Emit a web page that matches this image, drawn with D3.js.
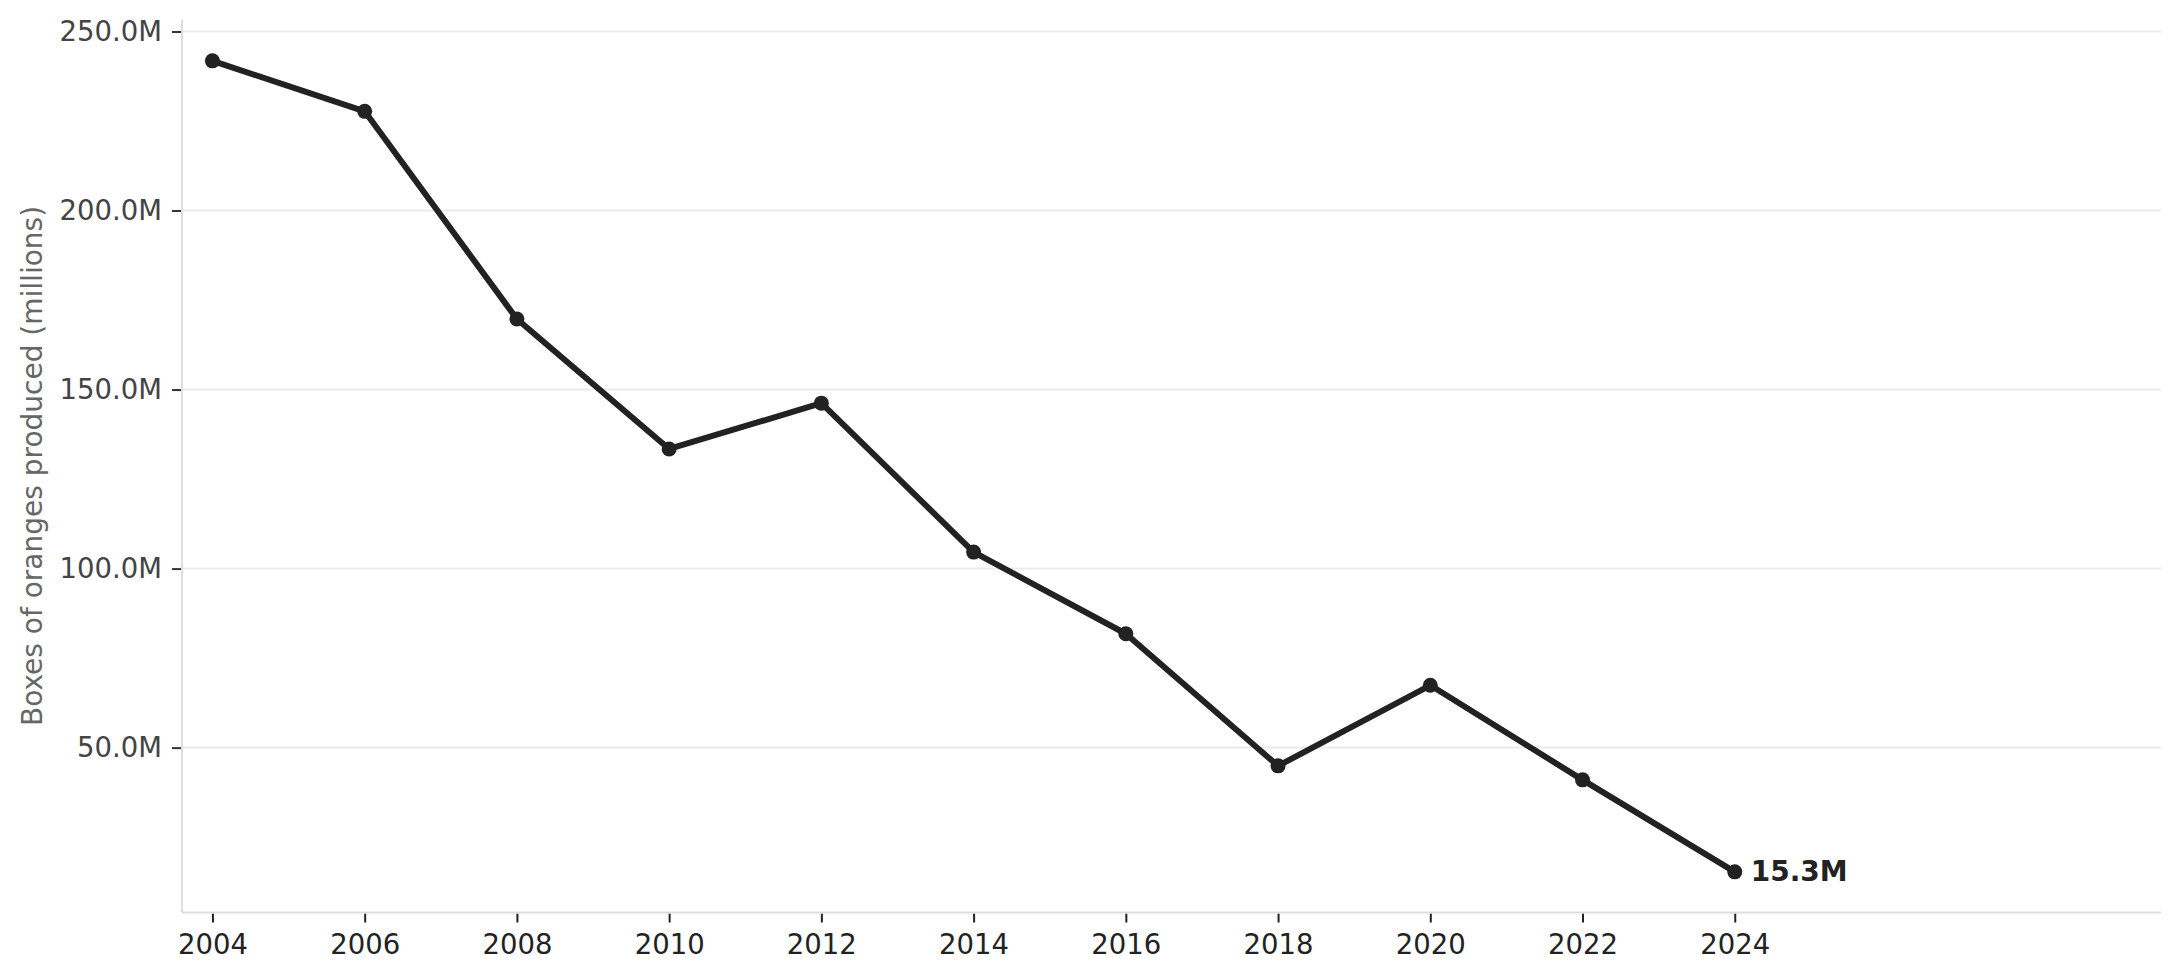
<!DOCTYPE html>
<html>
<head>
<meta charset="utf-8">
<script src="https://cdn.jsdelivr.net/npm/d3@7"></script>
<style>
  html, body { margin: 0; padding: 0; background: #ffffff; }
  svg { display: block; font-family: "DejaVu Sans", sans-serif; }
</style>
</head>
<body>
<svg id="chart" width="2181" height="980"></svg>
<script>
const years = [2004, 2006, 2008, 2010, 2012, 2014, 2016, 2018, 2020, 2022, 2024];
const boxes = [241.8, 227.7, 169.7, 133.4, 146.2, 104.6, 81.8, 44.9, 67.4, 41.0, 15.3];
const xTicks = [2004, 2006, 2008, 2010, 2012, 2014, 2016, 2018, 2020, 2022, 2024];
const yTicks = [50, 100, 150, 200, 250];
const yLabel = "Boxes of oranges produced (millions)";
const lastLabel = "15.3M";

const svg = d3.select("#chart");
const W = 2181, H = 980;
const m = { left: 182, right: W - 2161, top: 19.5, bottom: H - 912.5 };

const x = d3.scaleLinear().domain([2003.6, 2029.6]).range([m.left, W - m.right]);
const y = d3.scaleLinear().domain([3.95, 253.35]).range([H - m.bottom, m.top]);

// gridlines
svg.append("g").selectAll("line").data(yTicks).join("line")
  .attr("x1", m.left).attr("x2", W - m.right)
  .attr("y1", d => y(d)).attr("y2", d => y(d))
  .attr("stroke", "#ebebeb").attr("stroke-width", 2);

// y axis
const yAxis = svg.append("g").attr("transform", `translate(${m.left - 1},0)`)
  .call(d3.axisLeft(y).tickValues(yTicks).tickFormat(d => d3.format(".1f")(d) + "M").tickSize(9).tickPadding(10));
yAxis.select(".domain").remove();
yAxis.selectAll(".tick line").attr("stroke", "#333").attr("stroke-width", 2);
yAxis.selectAll(".tick text").attr("fill", "#444").style("font-size", "27.5px").style("font-family", "DejaVu Sans");

// x axis
const xAxis = svg.append("g").attr("transform", `translate(0,${H - m.bottom + 1})`)
  .call(d3.axisBottom(x).tickValues(xTicks).tickFormat(d3.format("d")).tickSize(9).tickPadding(12));
xAxis.select(".domain").remove();
xAxis.selectAll(".tick line").attr("stroke", "#222").attr("stroke-width", 2);
xAxis.selectAll(".tick text").attr("fill", "#222").style("font-size", "27.5px").style("font-family", "DejaVu Sans");

// spines
svg.append("line").attr("x1", m.left).attr("x2", m.left).attr("y1", m.top).attr("y2", H - m.bottom)
  .attr("stroke", "#dddddd").attr("stroke-width", 2);
svg.append("line").attr("x1", m.left).attr("x2", W - m.right).attr("y1", H - m.bottom).attr("y2", H - m.bottom)
  .attr("stroke", "#dddddd").attr("stroke-width", 2);

// y label
svg.append("text")
  .attr("transform", `translate(32,${(m.top + H - m.bottom) / 2}) rotate(-90)`)
  .attr("text-anchor", "middle").attr("dominant-baseline", "central")
  .attr("fill", "#666").style("font-size", "28px")
  .text(yLabel);

const data = years.map((yr, i) => ({ yr, v: boxes[i] }));

svg.append("path").datum(data)
  .attr("fill", "none").attr("stroke", "#222222").attr("stroke-width", 6)
  .attr("stroke-linejoin", "round")
  .attr("d", d3.line().x(d => x(d.yr)).y(d => y(d.v)));

svg.append("g").selectAll("circle").data(data).join("circle")
  .attr("cx", d => x(d.yr)).attr("cy", d => y(d.v)).attr("r", 7.5)
  .attr("fill", "#222222");

const last = data[data.length - 1];
svg.append("text")
  .attr("x", x(last.yr) + 16).attr("y", y(last.v))
  .attr("dominant-baseline", "central")
  .attr("fill", "#222").style("font-size", "28px").style("font-weight", "bold")
  .text(lastLabel);
</script>
</body>
</html>
